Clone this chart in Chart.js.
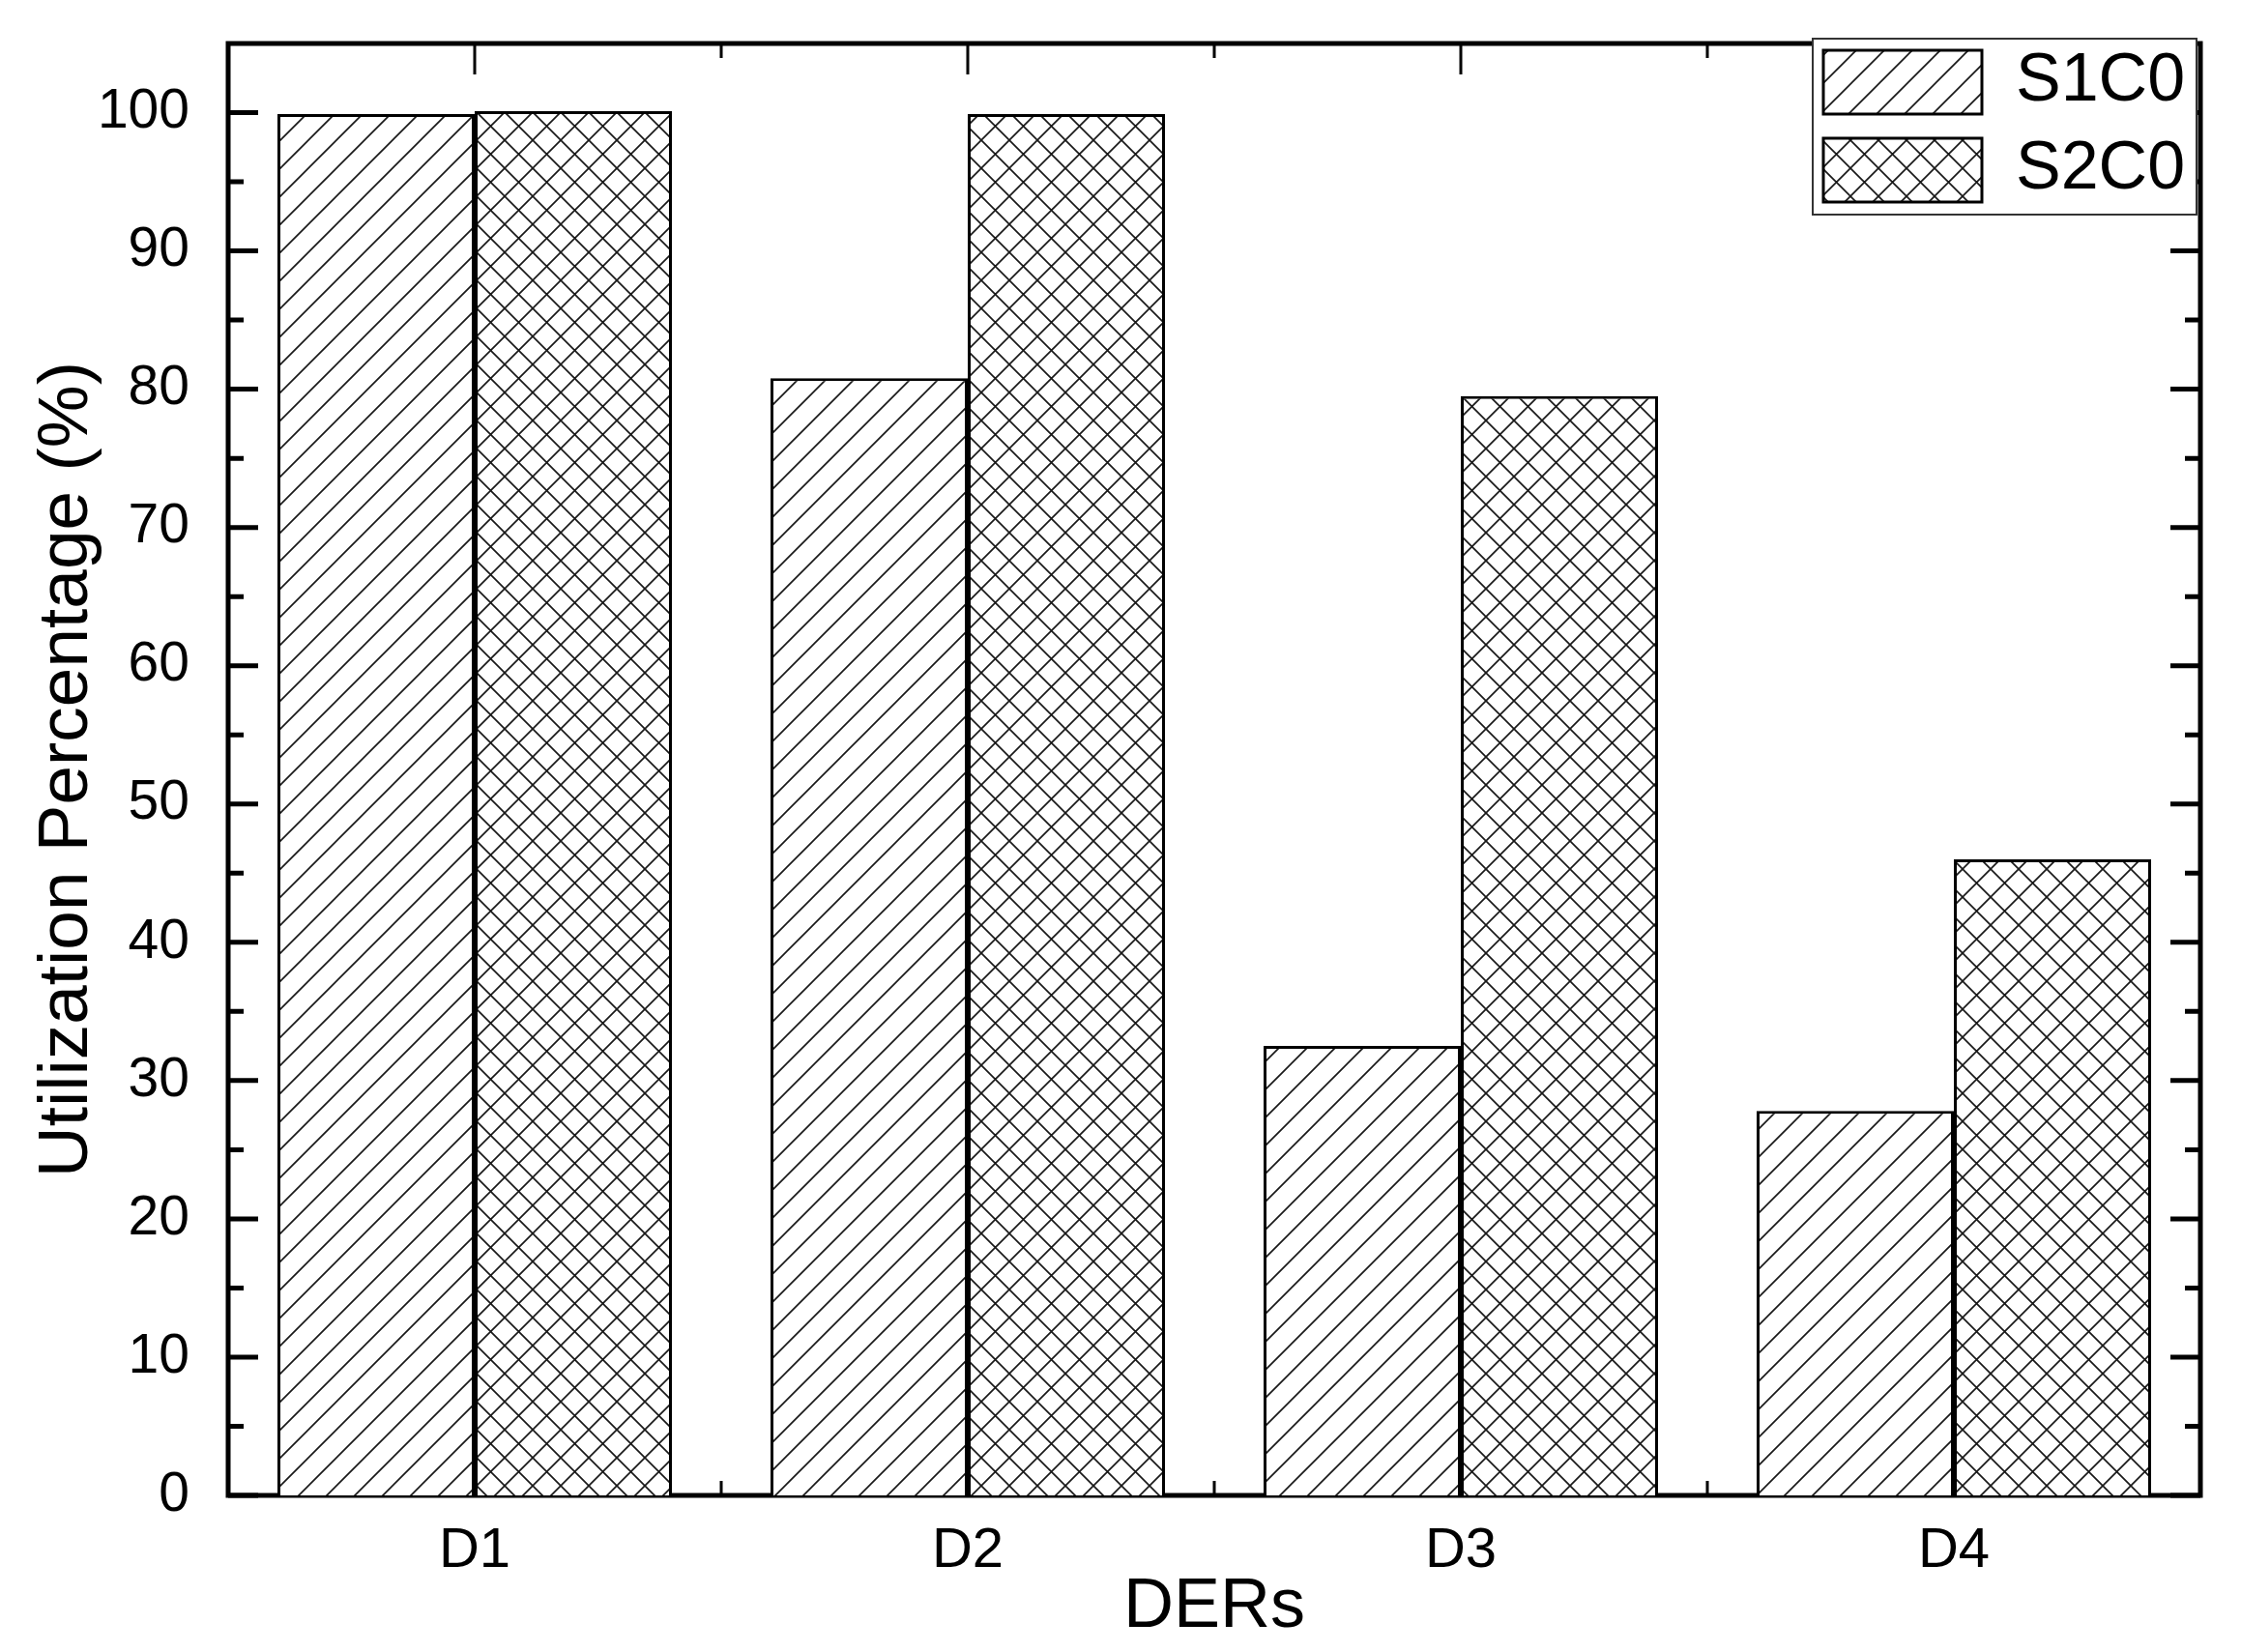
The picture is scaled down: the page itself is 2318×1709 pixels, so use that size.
<!DOCTYPE html>
<html>
<head>
<meta charset="utf-8">
<script src="https://cdn.jsdelivr.net/npm/chart.js@4.4.0/dist/chart.umd.min.js"></script>
<style>
  html, body { margin: 0; padding: 0; background: #fff; }
</style>
</head>
<body>
<canvas id="BarChart" width="2318" height="1709"></canvas>
<script>
// data
var categories = ["D1", "D2", "D3", "D4"];
var seriesNames = ["S1C0", "S2C0"];
var s1c0 = [99.9, 80.8, 32.5, 27.8];
var s2c0 = [100.1, 99.9, 79.5, 46.0];
var yTicks = [0, 10, 20, 30, 40, 50, 60, 70, 80, 90, 100];
var yMinorTicks = [5, 15, 25, 35, 45, 55, 65, 75, 85, 95];

// hatch fills (single "/" and cross "x")
function makeHatch(cross) {
    var s = 29;
    var c = document.createElement('canvas');
    c.width = s; c.height = s;
    var g = c.getContext('2d');
    g.fillStyle = '#fff';
    g.fillRect(0, 0, s, s);
    g.strokeStyle = '#1a1a1a';
    g.lineWidth = 1.7;
    g.beginPath();
    for (var k = -1; k <= 1; k++) {
        g.moveTo(k * s - 1, s + 1);
        g.lineTo(k * s + s + 1, -1);
        if (cross) {
            g.moveTo(k * s - 1, -1);
            g.lineTo(k * s + s + 1, s + 1);
        }
    }
    g.stroke();
    return g.createPattern(c, 'repeat');
}

// axis box, inward ticks and the legend frame
var framePlugin = {
    id: 'frame',
    afterLayout: function(chart) {
        var a = chart.chartArea;
        chart.legend.left = a.right - 411;
        chart.legend.top = a.top - 16;
    },
    beforeDraw: function(chart) {
        var ctx = chart.ctx;
        var a = chart.chartArea;
        var x = chart.scales.x, y = chart.scales.y;
        ctx.save();
        ctx.strokeStyle = '#000';
        ctx.lineCap = 'butt';

        // y ticks, left and right, pointing inward
        ctx.lineWidth = 5;
        ctx.beginPath();
        yTicks.forEach(function(v) {
            var p = y.getPixelForValue(v);
            ctx.moveTo(a.left, p); ctx.lineTo(a.left + 31, p);
            ctx.moveTo(a.right, p); ctx.lineTo(a.right - 31, p);
        });
        yMinorTicks.forEach(function(v) {
            var p = y.getPixelForValue(v);
            ctx.moveTo(a.left, p); ctx.lineTo(a.left + 16, p);
            ctx.moveTo(a.right, p); ctx.lineTo(a.right - 16, p);
        });
        ctx.stroke();

        // x ticks: long at categories, short between them
        ctx.lineWidth = 3;
        ctx.beginPath();
        categories.forEach(function(c, i) {
            var p = x.getPixelForValue(i);
            ctx.moveTo(p, a.top); ctx.lineTo(p, a.top + 32);
            ctx.moveTo(p, a.bottom); ctx.lineTo(p, a.bottom - 32);
            if (i > 0) {
                var q = (x.getPixelForValue(i - 1) + p) / 2;
                ctx.moveTo(q, a.top); ctx.lineTo(q, a.top + 15);
                ctx.moveTo(q, a.bottom); ctx.lineTo(q, a.bottom - 15);
            }
        });
        ctx.stroke();

        // plot box
        ctx.lineWidth = 5;
        ctx.strokeRect(a.left, a.top, a.right - a.left, a.bottom - a.top);

        // legend frame
        var lg = chart.legend;
        var pad = lg.options.labels.padding;
        var fl = lg.left + pad - 11;
        var ft = lg.top + 11;
        var fr = a.right - 4;
        var fb = ft + 182;
        ctx.fillStyle = '#fff';
        ctx.fillRect(fl, ft, fr - fl, fb - ft);
        ctx.lineWidth = 2;
        ctx.strokeStyle = '#333';
        ctx.strokeRect(fl, ft, fr - fl, fb - ft);
        ctx.restore();
    }
};

var ctx = document.getElementById("BarChart").getContext('2d');
Chart.defaults.font.family = "'Liberation Sans', Arial, sans-serif";
Chart.defaults.color = '#000';

var myChart = new Chart(ctx, {
    type: 'bar',
    data: {
        labels: categories,
        datasets: [{
            label: seriesNames[0],
            data: s1c0,
            backgroundColor: makeHatch(false),
            borderColor: '#000',
            borderWidth: 3
        }, {
            label: seriesNames[1],
            data: s2c0,
            backgroundColor: makeHatch(true),
            borderColor: '#000',
            borderWidth: 3
        }]
    },
    options: {
        responsive: false,
        animation: false,
        layout: {
            padding: { top: 45, right: 42, left: 0, bottom: 0 }
        },
        datasets: {
            bar: { categoryPercentage: 0.8, barPercentage: 1.0 }
        },
        scales: {
            x: {
                grid: { display: false, drawTicks: false },
                border: { display: false },
                ticks: { font: { size: 58 }, padding: 23, color: '#000' },
                title: {
                    display: true,
                    text: 'DERs',
                    font: { size: 72 },
                    color: '#000',
                    padding: { top: 0, bottom: 3 }
                },
                afterFit: function(scale) {
                    scale.height = 162;
                    scale.paddingLeft = 0;
                    scale.paddingRight = 0;
                }
            },
            y: {
                min: 0,
                max: 105,
                grid: { display: false, drawTicks: false },
                border: { display: false },
                ticks: { font: { size: 57 }, padding: 40, color: '#000' },
                afterBuildTicks: function(scale) {
                    scale.ticks = yTicks.map(function(v) { return { value: v }; });
                },
                title: {
                    display: true,
                    text: 'Utilization Percentage (%)',
                    font: { size: 73 },
                    color: '#000',
                    padding: { top: 26, bottom: 0 }
                },
                afterFit: function(scale) {
                    scale.width = 236;
                    scale.paddingTop = 0;
                    scale.paddingBottom = 0;
                }
            }
        },
        plugins: {
            legend: {
                display: true,
                position: 'chartArea',
                align: 'start',
                labels: {
                    boxWidth: 164,
                    boxHeight: 66,
                    padding: 21,
                    color: '#000',
                    font: { size: 70 }
                }
            },
            tooltip: { enabled: false }
        }
    },
    plugins: [framePlugin]
});
</script>
</body>
</html>
